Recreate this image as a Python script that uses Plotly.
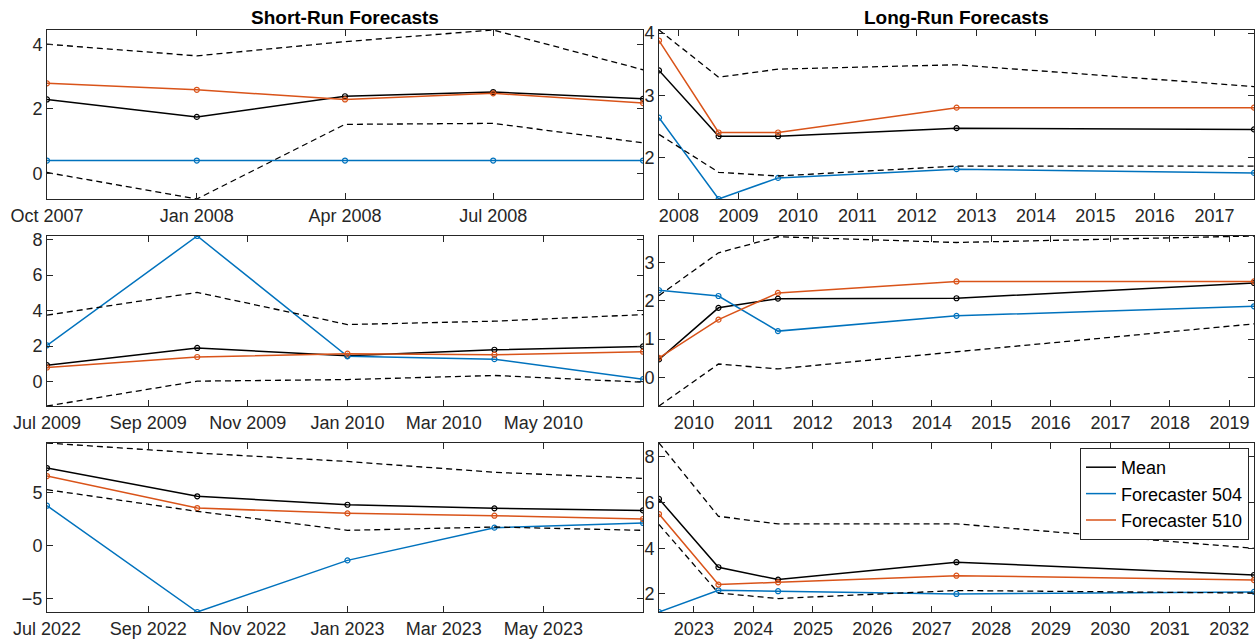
import plotly.graph_objects as go
from plotly.subplots import make_subplots

# ---------------- Short-run forecasts (quarterly horizons) ----------------
sr1_dates = ["2007-10-01", "2008-01-01", "2008-04-01", "2008-07-01", "2008-10-01"]
sr1_mean = [2.29, 1.75, 2.39, 2.52, 2.31]
sr1_f504 = [0.40, 0.40, 0.40, 0.40, 0.40]
sr1_f510 = [2.79, 2.59, 2.29, 2.48, 2.18]
sr1_upper = [4.00, 3.64, 4.08, 4.44, 3.21]
sr1_lower = [0.03, -0.79, 1.52, 1.55, 0.95]
sr1_tickvals = ["2007-10-01", "2008-01-01", "2008-04-01", "2008-07-01"]
sr1_ticktext = ["Oct 2007", "Jan 2008", "Apr 2008", "Jul 2008"]

sr2_dates = ["2009-07-01", "2009-10-01", "2010-01-01", "2010-04-01", "2010-07-01"]
sr2_mean = [0.92, 1.89, 1.45, 1.79, 1.98]
sr2_f504 = [2.04, 8.20, 1.42, 1.26, 0.13]
sr2_f510 = [0.79, 1.38, 1.57, 1.51, 1.68]
sr2_upper = [3.74, 5.02, 3.21, 3.40, 3.77]
sr2_lower = [-1.38, 0.02, 0.11, 0.34, -0.04]
sr2_tickvals = ["2009-07-01", "2009-09-01", "2009-11-01", "2010-01-01", "2010-03-01", "2010-05-01"]
sr2_ticktext = ["Jul 2009", "Sep 2009", "Nov 2009", "Jan 2010", "Mar 2010", "May 2010"]

sr3_dates = ["2022-07-01", "2022-10-01", "2023-01-01", "2023-04-01", "2023-07-01"]
sr3_mean = [7.28, 4.63, 3.84, 3.50, 3.31]
sr3_f504 = [3.75, -6.22, -1.38, 1.69, 2.13]
sr3_f510 = [6.53, 3.53, 3.03, 2.81, 2.50]
sr3_upper = [9.63, 8.69, 7.90, 6.88, 6.31]
sr3_lower = [5.25, 3.22, 1.44, 1.75, 1.44]
sr3_tickvals = ["2022-07-01", "2022-09-01", "2022-11-01", "2023-01-01", "2023-03-01", "2023-05-01"]
sr3_ticktext = ["Jul 2022", "Sep 2022", "Nov 2022", "Jan 2023", "Mar 2023", "May 2023"]

# ---------------- Long-run forecasts (1, 2, 5, 10 years ahead) ----------------
lr1_dates = ["2007-09-01", "2008-09-01", "2009-09-01", "2012-09-01", "2017-09-01"]
lr1_mean = [3.40, 2.34, 2.34, 2.47, 2.45]
lr1_f504 = [2.64, 1.33, 1.67, 1.81, 1.75]
lr1_f510 = [3.88, 2.40, 2.40, 2.80, 2.80]
lr1_upper = [4.05, 3.29, 3.42, 3.49, 3.14]
lr1_lower = [2.37, 1.76, 1.70, 1.86, 1.86]
lr1_years = list(range(2008, 2018))

lr2_dates = ["2009-06-01", "2010-06-01", "2011-06-01", "2014-06-01", "2019-06-01"]
lr2_mean = [0.47, 1.82, 2.06, 2.07, 2.47]
lr2_f504 = [2.28, 2.13, 1.21, 1.61, 1.86]
lr2_f510 = [0.51, 1.51, 2.21, 2.51, 2.51]
lr2_upper = [2.14, 3.26, 3.68, 3.53, 3.70]
lr2_lower = [-0.75, 0.35, 0.22, 0.67, 1.40]
lr2_years = list(range(2010, 2020))

lr3_dates = ["2022-06-01", "2023-06-01", "2024-06-01", "2027-06-01", "2032-06-01"]
lr3_mean = [6.16, 3.17, 2.63, 3.39, 2.83]
lr3_f504 = [1.21, 2.16, 2.12, 2.00, 2.09]
lr3_f510 = [5.50, 2.41, 2.51, 2.80, 2.61]
lr3_upper = [8.61, 5.40, 5.07, 5.07, 4.00]
lr3_lower = [5.04, 2.04, 1.80, 2.15, 2.04]
lr3_years = list(range(2023, 2033))

series_names = ["Mean", "Forecaster 504", "Forecaster 510"]
series_colors = ["#000000", "#0072BD", "#D95319"]
AXIS_COLOR = "#262626"
FONT = "Liberation Sans"

panels = [
    # row, col, dates, mean, 504, 510, upper, lower, tickvals, ticktext, ytick step
    (1, 1, sr1_dates, sr1_mean, sr1_f504, sr1_f510, sr1_upper, sr1_lower, sr1_tickvals, sr1_ticktext, 2),
    (1, 2, lr1_dates, lr1_mean, lr1_f504, lr1_f510, lr1_upper, lr1_lower,
     [f"{y}-01-01" for y in lr1_years], [str(y) for y in lr1_years], 1),
    (2, 1, sr2_dates, sr2_mean, sr2_f504, sr2_f510, sr2_upper, sr2_lower, sr2_tickvals, sr2_ticktext, 2),
    (2, 2, lr2_dates, lr2_mean, lr2_f504, lr2_f510, lr2_upper, lr2_lower,
     [f"{y}-01-01" for y in lr2_years], [str(y) for y in lr2_years], 1),
    (3, 1, sr3_dates, sr3_mean, sr3_f504, sr3_f510, sr3_upper, sr3_lower, sr3_tickvals, sr3_ticktext, 5),
    (3, 2, lr3_dates, lr3_mean, lr3_f504, lr3_f510, lr3_upper, lr3_lower,
     [f"{y}-01-01" for y in lr3_years], [str(y) for y in lr3_years], 2),
]

W, H = 1258, 643
col_px = {1: (47, 643), 2: (659, 1254)}
row_px = {1: (30, 199), 2: (236, 406), 3: (443, 612)}

fig = make_subplots(rows=3, cols=2)

for (r, c, dates, mean, f504, f510, upper, lower, tv, tt, dy) in panels:
    for name, color, vals in zip(series_names, series_colors, [mean, f504, f510]):
        fig.add_trace(go.Scatter(
            x=dates, y=vals, name=name, mode="lines+markers",
            line=dict(color=color, width=1.5),
            marker=dict(symbol="circle-open", size=5, color=color, line=dict(width=1.2)),
            showlegend=False, legendgroup=name,
        ), row=r, col=c)
    for band in (upper, lower):
        fig.add_trace(go.Scatter(
            x=dates, y=band, mode="lines", showlegend=False,
            line=dict(color="#000000", width=1.3, dash="6px,4px"),
        ), row=r, col=c)

    allv = mean + f504 + f510 + upper + lower
    x0, x1 = col_px[c]
    y0, y1 = row_px[r]
    common = dict(showline=True, linecolor=AXIS_COLOR, linewidth=1, mirror="ticks",
                  ticks="inside", ticklen=6, tickcolor=AXIS_COLOR, tickwidth=1,
                  showgrid=False, zeroline=False, automargin=False,
                  tickfont=dict(family=FONT, size=18, color=AXIS_COLOR))
    fig.update_xaxes(type="date", range=[dates[0], dates[-1]],
                     tickmode="array", tickvals=tv, ticktext=tt,
                     domain=[x0 / W, x1 / W], row=r, col=c, **common)
    fig.update_yaxes(range=[min(allv), max(allv)], dtick=dy, tick0=0,
                     domain=[1 - y1 / H, 1 - y0 / H], row=r, col=c, **common)

# legend entries show the line style only
for name, color in zip(series_names, series_colors):
    fig.add_trace(go.Scatter(x=[None], y=[None], mode="lines", name=name,
                             line=dict(color=color, width=1.5), legendgroup=name,
                             showlegend=True), row=3, col=2)

titles = [("Short-Run Forecasts", (47 + 643) / 2), ("Long-Run Forecasts", (659 + 1254) / 2)]
for text, xc in titles:
    fig.add_annotation(text=f"<b>{text}</b>", x=xc / W, y=1 - 17 / H, xref="paper", yref="paper",
                       xanchor="center", yanchor="middle", showarrow=False,
                       font=dict(family=FONT, size=19, color="#000000"))

fig.update_layout(
    width=W, height=H, autosize=False,
    margin=dict(l=0, r=0, t=0, b=0),
    paper_bgcolor="white", plot_bgcolor="white",
    font=dict(family=FONT, size=18, color=AXIS_COLOR),
    legend=dict(x=1249 / W, xanchor="right", y=1 - 448 / H, yanchor="top",
                bgcolor="white", bordercolor=AXIS_COLOR, borderwidth=1,
                font=dict(family=FONT, size=18, color="#000000"),
                tracegroupgap=0, itemwidth=30),
)

fig.write_html("out.html")
